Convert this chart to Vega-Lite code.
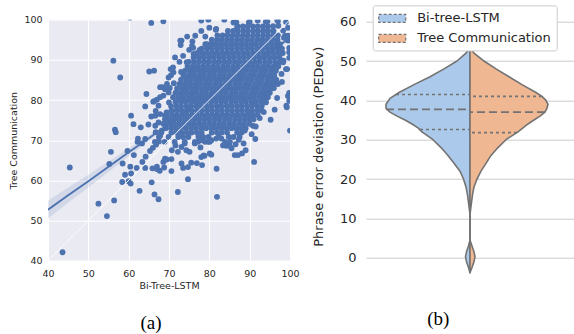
{
"$schema": "https://vega.github.io/schema/vega-lite/v6.json",
"background": "white",
"padding": {"left": 8, "top": 4.7, "right": 0, "bottom": 0},
"autosize": {"type": "pad"},
"config": {"view": {"stroke": null}, "font": "DejaVu Sans"},
"spacing": 76,
"bounds": "flush",
"datasets": {
"pts": [
{"bi":87,"tc":98.3},{"bi":88.3,"tc":98.3},{"bi":89.5,"tc":98.3},{"bi":90.8,"tc":98.3},{"bi":92,"tc":98.3},{"bi":93.3,"tc":98.3},{"bi":94.5,"tc":98.3},{"bi":95.8,"tc":98.4},{"bi":97.1,"tc":98.5},{"bi":98.3,"tc":97.3},{"bi":98.8,"tc":96},{"bi":99.5,"tc":94.8},
{"bi":84.6,"tc":97.2},{"bi":85.9,"tc":97.2},{"bi":87.1,"tc":97.2},{"bi":88.4,"tc":97.2},{"bi":89.6,"tc":97.2},{"bi":90.9,"tc":97.2},{"bi":92.1,"tc":97.2},{"bi":93.4,"tc":97.2},{"bi":94.6,"tc":97.2},{"bi":95.9,"tc":97.2},
{"bi":82,"tc":96.1},{"bi":83.3,"tc":96.1},{"bi":84.5,"tc":96.1},{"bi":85.8,"tc":96.1},{"bi":87,"tc":96.1},{"bi":88.3,"tc":96.1},{"bi":89.5,"tc":96.1},{"bi":90.8,"tc":96.1},{"bi":92,"tc":96.1},{"bi":93.3,"tc":96.1},{"bi":94.5,"tc":96.1},{"bi":95.8,"tc":96.1},{"bi":97,"tc":96.1},
{"bi":80.6,"tc":95},{"bi":81.9,"tc":95},{"bi":83.1,"tc":95},{"bi":84.4,"tc":95},{"bi":85.6,"tc":95},{"bi":86.9,"tc":95},{"bi":88.1,"tc":95},{"bi":89.4,"tc":95},{"bi":90.6,"tc":95},{"bi":91.9,"tc":95},{"bi":93.1,"tc":95},{"bi":94.4,"tc":95},{"bi":95.6,"tc":95},{"bi":96.9,"tc":95},
{"bi":79,"tc":93.9},{"bi":80.3,"tc":93.9},{"bi":81.5,"tc":93.9},{"bi":82.8,"tc":93.9},{"bi":84,"tc":93.9},{"bi":85.3,"tc":93.9},{"bi":86.5,"tc":93.9},{"bi":87.8,"tc":93.9},{"bi":89,"tc":93.9},{"bi":90.3,"tc":93.9},{"bi":91.5,"tc":93.9},{"bi":92.8,"tc":93.9},{"bi":94,"tc":93.9},{"bi":95.3,"tc":93.9},{"bi":96.5,"tc":93.9},{"bi":97.5,"tc":93.9},
{"bi":78.1,"tc":92.8},{"bi":79.4,"tc":92.8},{"bi":80.6,"tc":92.8},{"bi":81.9,"tc":92.8},{"bi":83.1,"tc":92.8},{"bi":84.4,"tc":92.8},{"bi":85.6,"tc":92.8},{"bi":86.9,"tc":92.8},{"bi":88.1,"tc":92.8},{"bi":89.4,"tc":92.8},{"bi":90.6,"tc":92.8},{"bi":91.9,"tc":92.8},{"bi":93.1,"tc":92.8},{"bi":94.4,"tc":92.8},{"bi":95.6,"tc":92.8},{"bi":96.9,"tc":92.8},{"bi":98,"tc":92.8},
{"bi":77,"tc":91.7},{"bi":78.3,"tc":91.7},{"bi":79.5,"tc":91.7},{"bi":80.8,"tc":91.7},{"bi":82,"tc":91.7},{"bi":83.3,"tc":91.7},{"bi":84.5,"tc":91.7},{"bi":85.8,"tc":91.7},{"bi":87,"tc":91.7},{"bi":88.3,"tc":91.7},{"bi":89.5,"tc":91.7},{"bi":90.8,"tc":91.7},{"bi":92,"tc":91.7},{"bi":93.3,"tc":91.7},{"bi":94.5,"tc":91.7},{"bi":95.8,"tc":91.7},{"bi":97,"tc":91.7},{"bi":98.2,"tc":91.7},
{"bi":76.1,"tc":90.6},{"bi":77.4,"tc":90.6},{"bi":78.6,"tc":90.6},{"bi":79.9,"tc":90.6},{"bi":81.1,"tc":90.6},{"bi":82.4,"tc":90.6},{"bi":83.6,"tc":90.6},{"bi":84.9,"tc":90.6},{"bi":86.1,"tc":90.6},{"bi":87.4,"tc":90.6},{"bi":88.6,"tc":90.6},{"bi":89.9,"tc":90.6},{"bi":91.1,"tc":90.6},{"bi":92.4,"tc":90.6},{"bi":93.6,"tc":90.6},{"bi":94.9,"tc":90.6},{"bi":96.1,"tc":90.6},{"bi":97.4,"tc":90.6},
{"bi":75,"tc":89.5},{"bi":76.3,"tc":89.5},{"bi":77.5,"tc":89.5},{"bi":78.8,"tc":89.5},{"bi":80,"tc":89.5},{"bi":81.3,"tc":89.5},{"bi":82.5,"tc":89.5},{"bi":83.8,"tc":89.5},{"bi":85,"tc":89.5},{"bi":86.3,"tc":89.5},{"bi":87.5,"tc":89.5},{"bi":88.8,"tc":89.5},{"bi":90,"tc":89.5},{"bi":91.3,"tc":89.5},{"bi":92.5,"tc":89.5},{"bi":93.8,"tc":89.5},{"bi":95,"tc":89.5},{"bi":96.3,"tc":89.5},{"bi":97.5,"tc":89.5},
{"bi":74.6,"tc":88.4},{"bi":75.9,"tc":88.4},{"bi":77.1,"tc":88.4},{"bi":78.4,"tc":88.4},{"bi":79.6,"tc":88.4},{"bi":80.9,"tc":88.4},{"bi":82.1,"tc":88.4},{"bi":83.4,"tc":88.4},{"bi":84.6,"tc":88.4},{"bi":85.9,"tc":88.4},{"bi":87.1,"tc":88.4},{"bi":88.4,"tc":88.4},{"bi":89.6,"tc":88.4},{"bi":90.9,"tc":88.4},{"bi":92.1,"tc":88.4},{"bi":93.4,"tc":88.4},{"bi":94.6,"tc":88.4},{"bi":95.9,"tc":88.4},{"bi":97.1,"tc":88.4},
{"bi":74,"tc":87.3},{"bi":75.3,"tc":87.3},{"bi":76.5,"tc":87.3},{"bi":77.8,"tc":87.3},{"bi":79,"tc":87.3},{"bi":80.3,"tc":87.3},{"bi":81.5,"tc":87.3},{"bi":82.8,"tc":87.3},{"bi":84,"tc":87.3},{"bi":85.3,"tc":87.3},{"bi":86.5,"tc":87.3},{"bi":87.8,"tc":87.3},{"bi":89,"tc":87.3},{"bi":90.3,"tc":87.3},{"bi":91.5,"tc":87.3},{"bi":92.8,"tc":87.3},{"bi":94,"tc":87.3},{"bi":95.3,"tc":87.3},{"bi":96.5,"tc":87.3},
{"bi":73.6,"tc":86.2},{"bi":74.9,"tc":86.2},{"bi":76.1,"tc":86.2},{"bi":77.4,"tc":86.2},{"bi":78.6,"tc":86.2},{"bi":79.9,"tc":86.2},{"bi":81.1,"tc":86.2},{"bi":82.4,"tc":86.2},{"bi":83.6,"tc":86.2},{"bi":84.9,"tc":86.2},{"bi":86.1,"tc":86.2},{"bi":87.4,"tc":86.2},{"bi":88.6,"tc":86.2},{"bi":89.9,"tc":86.2},{"bi":91.1,"tc":86.2},{"bi":92.4,"tc":86.2},{"bi":93.6,"tc":86.2},{"bi":94.9,"tc":86.2},{"bi":96.1,"tc":86.2},
{"bi":73,"tc":85.1},{"bi":74.3,"tc":85.1},{"bi":75.5,"tc":85.1},{"bi":76.8,"tc":85.1},{"bi":78,"tc":85.1},{"bi":79.3,"tc":85.1},{"bi":80.5,"tc":85.1},{"bi":81.8,"tc":85.1},{"bi":83,"tc":85.1},{"bi":84.3,"tc":85.1},{"bi":85.5,"tc":85.1},{"bi":86.8,"tc":85.1},{"bi":88,"tc":85.1},{"bi":89.3,"tc":85.1},{"bi":90.5,"tc":85.1},{"bi":91.8,"tc":85.1},{"bi":93,"tc":85.1},{"bi":94.3,"tc":85.1},{"bi":95.5,"tc":85.1},{"bi":96.6,"tc":85.1},
{"bi":72.6,"tc":84},{"bi":73.9,"tc":84},{"bi":75.1,"tc":84},{"bi":76.4,"tc":84},{"bi":77.6,"tc":84},{"bi":78.9,"tc":84},{"bi":80.1,"tc":84},{"bi":81.4,"tc":84},{"bi":82.6,"tc":84},{"bi":83.9,"tc":84},{"bi":85.1,"tc":84},{"bi":86.4,"tc":84},{"bi":87.6,"tc":84},{"bi":88.9,"tc":84},{"bi":90.1,"tc":84},{"bi":91.4,"tc":84},{"bi":92.6,"tc":84},{"bi":93.9,"tc":84},{"bi":95.1,"tc":84},{"bi":96.1,"tc":84},
{"bi":72,"tc":82.9},{"bi":73.3,"tc":82.9},{"bi":74.5,"tc":82.9},{"bi":75.8,"tc":82.9},{"bi":77,"tc":82.9},{"bi":78.3,"tc":82.9},{"bi":79.5,"tc":82.9},{"bi":80.8,"tc":82.9},{"bi":82,"tc":82.9},{"bi":83.3,"tc":82.9},{"bi":84.5,"tc":82.9},{"bi":85.8,"tc":82.9},{"bi":87,"tc":82.9},{"bi":88.3,"tc":82.9},{"bi":89.5,"tc":82.9},{"bi":90.8,"tc":82.9},{"bi":92,"tc":82.9},{"bi":93.3,"tc":82.9},{"bi":94.5,"tc":82.9},{"bi":95.5,"tc":82.9},
{"bi":71.6,"tc":81.8},{"bi":72.9,"tc":81.8},{"bi":74.1,"tc":81.8},{"bi":75.4,"tc":81.8},{"bi":76.6,"tc":81.8},{"bi":77.9,"tc":81.8},{"bi":79.1,"tc":81.8},{"bi":80.4,"tc":81.8},{"bi":81.6,"tc":81.8},{"bi":82.9,"tc":81.8},{"bi":84.1,"tc":81.8},{"bi":85.4,"tc":81.8},{"bi":86.6,"tc":81.8},{"bi":87.9,"tc":81.8},{"bi":89.1,"tc":81.8},{"bi":90.4,"tc":81.8},{"bi":91.6,"tc":81.8},{"bi":92.9,"tc":81.8},{"bi":94.1,"tc":81.8},{"bi":95,"tc":81.8},
{"bi":71,"tc":80.7},{"bi":72.3,"tc":80.7},{"bi":73.5,"tc":80.7},{"bi":74.8,"tc":80.7},{"bi":76,"tc":80.7},{"bi":77.3,"tc":80.7},{"bi":78.5,"tc":80.7},{"bi":79.8,"tc":80.7},{"bi":81,"tc":80.7},{"bi":82.3,"tc":80.7},{"bi":83.5,"tc":80.7},{"bi":84.8,"tc":80.7},{"bi":86,"tc":80.7},{"bi":87.3,"tc":80.7},{"bi":88.5,"tc":80.7},{"bi":89.8,"tc":80.7},{"bi":91,"tc":80.7},{"bi":92.3,"tc":80.7},{"bi":93.5,"tc":80.7},{"bi":94.5,"tc":80.7},
{"bi":71.6,"tc":79.6},{"bi":72.9,"tc":79.6},{"bi":74.1,"tc":79.6},{"bi":75.4,"tc":79.6},{"bi":76.6,"tc":79.6},{"bi":77.9,"tc":79.6},{"bi":79.1,"tc":79.6},{"bi":80.4,"tc":79.6},{"bi":81.6,"tc":79.6},{"bi":82.9,"tc":79.6},{"bi":84.1,"tc":79.6},{"bi":85.4,"tc":79.6},{"bi":86.6,"tc":79.6},{"bi":87.9,"tc":79.6},{"bi":89.1,"tc":79.6},{"bi":90.4,"tc":79.6},{"bi":91.6,"tc":79.6},{"bi":92.9,"tc":79.6},{"bi":94,"tc":79.6},
{"bi":70.5,"tc":78.5},{"bi":71.8,"tc":78.5},{"bi":73,"tc":78.5},{"bi":74.3,"tc":78.5},{"bi":75.5,"tc":78.5},{"bi":76.8,"tc":78.5},{"bi":78,"tc":78.5},{"bi":79.3,"tc":78.5},{"bi":80.5,"tc":78.5},{"bi":81.8,"tc":78.5},{"bi":83,"tc":78.5},{"bi":84.3,"tc":78.5},{"bi":85.5,"tc":78.5},{"bi":86.8,"tc":78.5},{"bi":88,"tc":78.5},{"bi":89.3,"tc":78.5},{"bi":90.5,"tc":78.5},{"bi":91.8,"tc":78.5},{"bi":93,"tc":78.5},
{"bi":70.6,"tc":77.4},{"bi":71.9,"tc":77.4},{"bi":73.1,"tc":77.4},{"bi":74.4,"tc":77.4},{"bi":75.6,"tc":77.4},{"bi":76.9,"tc":77.4},{"bi":78.1,"tc":77.4},{"bi":79.4,"tc":77.4},{"bi":80.6,"tc":77.4},{"bi":81.9,"tc":77.4},{"bi":83.1,"tc":77.4},{"bi":84.4,"tc":77.4},{"bi":85.6,"tc":77.4},{"bi":86.9,"tc":77.4},{"bi":88.1,"tc":77.4},{"bi":89.4,"tc":77.4},{"bi":90.6,"tc":77.4},{"bi":91.9,"tc":77.4},{"bi":93,"tc":77.4},
{"bi":69.5,"tc":76.3},{"bi":70.8,"tc":76.3},{"bi":72,"tc":76.3},{"bi":73.3,"tc":76.3},{"bi":74.5,"tc":76.3},{"bi":75.8,"tc":76.3},{"bi":77,"tc":76.3},{"bi":78.3,"tc":76.3},{"bi":79.5,"tc":76.3},{"bi":80.8,"tc":76.3},{"bi":82,"tc":76.3},{"bi":83.3,"tc":76.3},{"bi":84.5,"tc":76.3},{"bi":85.8,"tc":76.3},{"bi":87,"tc":76.3},{"bi":88.3,"tc":76.3},{"bi":89.5,"tc":76.3},{"bi":90.8,"tc":76.3},{"bi":92,"tc":76.3},
{"bi":69,"tc":75.2},{"bi":70.1,"tc":75.2},{"bi":71.4,"tc":75.2},{"bi":72.6,"tc":75.2},{"bi":73.9,"tc":75.2},{"bi":75.1,"tc":75.2},{"bi":76.4,"tc":75.2},{"bi":77.6,"tc":75.2},{"bi":78.9,"tc":75.2},{"bi":80.1,"tc":75.2},{"bi":81.4,"tc":75.2},{"bi":82.6,"tc":75.2},{"bi":83.9,"tc":75.2},{"bi":85.1,"tc":75.2},{"bi":86.4,"tc":75.2},{"bi":87.6,"tc":75.2},{"bi":88.9,"tc":75.2},{"bi":90.1,"tc":75.2},{"bi":91,"tc":75.2},
{"bi":68.6,"tc":74.1},{"bi":69.9,"tc":74.1},{"bi":71.1,"tc":74.1},{"bi":72.4,"tc":74.1},{"bi":73.6,"tc":74.1},{"bi":74.9,"tc":74.1},{"bi":76.1,"tc":74.1},{"bi":77.4,"tc":74.1},{"bi":78.6,"tc":74.1},{"bi":79.9,"tc":74.1},{"bi":81.1,"tc":74.1},{"bi":82.4,"tc":74.1},{"bi":83.6,"tc":74.1},{"bi":84.9,"tc":74.1},{"bi":86.1,"tc":74.1},{"bi":87.4,"tc":74.1},{"bi":88.6,"tc":74.1},{"bi":89.9,"tc":74.1},
{"bi":69.2,"tc":73},{"bi":70.5,"tc":73},{"bi":71.7,"tc":73},{"bi":73,"tc":73},{"bi":74.2,"tc":73},{"bi":75.5,"tc":73},{"bi":76.7,"tc":73},{"bi":78,"tc":73},{"bi":79.2,"tc":73},{"bi":80.5,"tc":73},{"bi":81.7,"tc":73},{"bi":83,"tc":73},{"bi":84.2,"tc":73},{"bi":85.5,"tc":73},{"bi":86.7,"tc":73},{"bi":88,"tc":73},{"bi":89,"tc":73},
{"bi":68.1,"tc":71.9},{"bi":70.6,"tc":71.9},{"bi":71.9,"tc":71.9},{"bi":73.1,"tc":71.9},{"bi":74.4,"tc":71.9},{"bi":75.6,"tc":71.9},{"bi":76.9,"tc":71.9},{"bi":78.1,"tc":71.9},{"bi":80.6,"tc":71.9},{"bi":81.9,"tc":71.9},{"bi":83.1,"tc":71.9},{"bi":84.4,"tc":71.9},{"bi":86.9,"tc":71.9},{"bi":88,"tc":71.9},
{"bi":67.5,"tc":70.8},{"bi":69.9,"tc":70.8},{"bi":72.3,"tc":70.8},{"bi":73.5,"tc":70.8},{"bi":74.8,"tc":70.8},{"bi":77.3,"tc":70.8},{"bi":78.5,"tc":70.8},{"bi":79.8,"tc":70.8},{"bi":82.3,"tc":70.8},{"bi":84.8,"tc":70.8},{"bi":86,"tc":70.8},{"bi":87.5,"tc":70.8},
{"bi":66.5,"tc":69.6},{"bi":68.9,"tc":69.6},{"bi":71.4,"tc":69.6},{"bi":73.9,"tc":69.6},{"bi":76.4,"tc":69.6},{"bi":78.9,"tc":69.6},{"bi":80.1,"tc":69.6},{"bi":83.9,"tc":69.6},{"bi":85.1,"tc":69.6},
{"bi":45.4,"tc":63.2},{"bi":43.6,"tc":42.1},{"bi":52.5,"tc":54.2},{"bi":54.6,"tc":51.1},{"bi":56.4,"tc":55},{"bi":55.2,"tc":64.1},{"bi":55.6,"tc":67.1},{"bi":56.2,"tc":89.8},{"bi":57.9,"tc":85.6},{"bi":56.6,"tc":72.6},{"bi":56.8,"tc":72},{"bi":58.5,"tc":64.2},{"bi":59.1,"tc":61.4},{"bi":58.4,"tc":59.6},{"bi":60,"tc":59.8},{"bi":60.5,"tc":59.2},{"bi":60.6,"tc":61.7},{"bi":59.7,"tc":67.3},{"bi":61.3,"tc":66.3},{"bi":60.4,"tc":63.4},{"bi":62,"tc":63.1},{"bi":62.2,"tc":69.6},{"bi":63.3,"tc":69.2},{"bi":62.7,"tc":57.4},{"bi":64.1,"tc":63.1},{"bi":64.2,"tc":65.9},{"bi":63.4,"tc":64.6},{"bi":65.7,"tc":59.5},{"bi":65.9,"tc":63},{"bi":66.4,"tc":56.5},{"bi":67.4,"tc":55.3},{"bi":67,"tc":63.4},{"bi":67.7,"tc":62.4},{"bi":65.3,"tc":67.3},{"bi":66,"tc":68.1},{"bi":66.8,"tc":68.9},{"bi":67.5,"tc":69.7},{"bi":68.6,"tc":64.6},{"bi":69,"tc":65.4},{"bi":69.4,"tc":65.2},{"bi":65.6,"tc":99.2},{"bi":68.6,"tc":99.6},{"bi":65.1,"tc":87.1},{"bi":66.3,"tc":87.3},{"bi":64.4,"tc":81.5},{"bi":64.1,"tc":78.4},{"bi":66.1,"tc":79.6},{"bi":60.6,"tc":76.1},{"bi":61.2,"tc":74},{"bi":63,"tc":73.2},{"bi":62.3,"tc":70.4},{"bi":64.9,"tc":73.9},{"bi":65.6,"tc":75.9},{"bi":66.6,"tc":76.1},{"bi":66.6,"tc":73.6},{"bi":67.4,"tc":74.4},{"bi":68.4,"tc":83.2},{"bi":69,"tc":82.7},{"bi":68.6,"tc":81.1},{"bi":67.8,"tc":80.7},{"bi":67.4,"tc":78.6},{"bi":66.7,"tc":77.3},{"bi":67.8,"tc":76.5},{"bi":69,"tc":76.1},{"bi":69.4,"tc":76.9},{"bi":69.9,"tc":81.9},{"bi":70,"tc":79.4},{"bi":64.1,"tc":70.3},{"bi":66.7,"tc":72},{"bi":68.2,"tc":72.4},{"bi":67.8,"tc":71.1},{"bi":66.3,"tc":79.7},{"bi":67,"tc":80.1},{"bi":67.8,"tc":83.2},{"bi":69.5,"tc":84},{"bi":69.9,"tc":85.6},{"bi":71.1,"tc":86.9},
{"bi":78,"tc":99.8},{"bi":79.7,"tc":100.2},{"bi":83.8,"tc":100.3},{"bi":86.7,"tc":99.3},{"bi":90,"tc":99.5},{"bi":92,"tc":99.8},{"bi":94,"tc":99.5},{"bi":97,"tc":99.7},{"bi":99,"tc":99.4},{"bi":81.6,"tc":97.5},{"bi":73.1,"tc":94.8},{"bi":72.9,"tc":93.7},{"bi":75,"tc":92.5},{"bi":76,"tc":93},{"bi":71,"tc":88.1},{"bi":70.4,"tc":87.7},{"bi":72.6,"tc":89.5},{"bi":70.5,"tc":86.2},{"bi":71.2,"tc":84.2},{"bi":70.2,"tc":83},{"bi":73.5,"tc":91},{"bi":74.5,"tc":95.8},{"bi":76.5,"tc":96},{"bi":78,"tc":97.2},{"bi":80,"tc":98},{"bi":75.8,"tc":94.6},{"bi":71.5,"tc":90.6},{"bi":73,"tc":87},{"bi":72.8,"tc":94.8},{"bi":75.7,"tc":93.5},{"bi":76.1,"tc":91.5},{"bi":74.4,"tc":89.4},{"bi":77.6,"tc":92.5},{"bi":79.4,"tc":93.9},{"bi":79,"tc":95.8},{"bi":81.7,"tc":97.7},{"bi":86,"tc":99.3},{"bi":89.8,"tc":99.3},{"bi":86.9,"tc":98.1},{"bi":94.4,"tc":99.6},{"bi":96.8,"tc":100},{"bi":60.3,"tc":100.5},{"bi":83.7,"tc":100},{"bi":79.8,"tc":100},
{"bi":97,"tc":84},{"bi":97.9,"tc":86.5},{"bi":99,"tc":87.7},{"bi":98.3,"tc":89.4},{"bi":94.4,"tc":81.2},{"bi":94,"tc":79.4},{"bi":96.2,"tc":77.6},{"bi":91.3,"tc":79},{"bi":90.4,"tc":76.5},{"bi":99.1,"tc":78.6},{"bi":99.5,"tc":81},{"bi":90.8,"tc":73.6},{"bi":88.8,"tc":72.4},{"bi":91.4,"tc":70.3},{"bi":91.5,"tc":73.4},{"bi":91.1,"tc":64.6},{"bi":95.2,"tc":75.1},{"bi":99.2,"tc":78.2},{"bi":100,"tc":72.4},{"bi":99.8,"tc":81.8},{"bi":99.8,"tc":79.8},{"bi":99.8,"tc":91.9},{"bi":99.3,"tc":87.7},{"bi":98.4,"tc":89.8},{"bi":99.8,"tc":90.5},{"bi":99.8,"tc":93},{"bi":99.6,"tc":96},{"bi":99.5,"tc":98},{"bi":98.5,"tc":95.5},{"bi":97.5,"tc":92},{"bi":96.5,"tc":88},{"bi":95.5,"tc":86},{"bi":96,"tc":83},{"bi":93.5,"tc":77},{"bi":92.5,"tc":75.5},{"bi":94.5,"tc":84.5},{"bi":98,"tc":84.5},{"bi":96.8,"tc":80.5},{"bi":97,"tc":88.8},
{"bi":70.6,"tc":62.3},{"bi":72.2,"tc":57.1},{"bi":74.7,"tc":60.3},{"bi":81.9,"tc":55.9},{"bi":81.8,"tc":62.9},{"bi":78.2,"tc":63.8},{"bi":73.1,"tc":64.2},{"bi":73.5,"tc":63.1},{"bi":74.7,"tc":63.3},{"bi":87.3,"tc":70.1},{"bi":86.3,"tc":66.3},{"bi":87.1,"tc":66.3},{"bi":88.1,"tc":66.7},{"bi":84.2,"tc":68.6},{"bi":85,"tc":68.6},{"bi":76.9,"tc":64.3},{"bi":78,"tc":65.8},{"bi":78.6,"tc":66.2},{"bi":80.5,"tc":66.4},{"bi":80.1,"tc":66.7},{"bi":70.6,"tc":65.3},{"bi":70.7,"tc":67.5},{"bi":71.6,"tc":68.7},{"bi":72.2,"tc":67.1},{"bi":73.1,"tc":68.3},{"bi":73.9,"tc":69.2},{"bi":74.3,"tc":67.5},{"bi":75.1,"tc":67.1},{"bi":76.4,"tc":69.2},{"bi":77.2,"tc":69.6},{"bi":78,"tc":70},{"bi":79.7,"tc":69.6},{"bi":80.5,"tc":70},{"bi":81.7,"tc":70.4},{"bi":83,"tc":70.4},{"bi":83.4,"tc":68.7},{"bi":77.8,"tc":68.2},{"bi":78.8,"tc":66.1},{"bi":75.5,"tc":64.4},{"bi":85.5,"tc":68},{"bi":89,"tc":67.5},{"bi":88.5,"tc":69.2},{"bi":90.5,"tc":71.5},{"bi":86.5,"tc":69},{"bi":68.8,"tc":63.2},{"bi":67,"tc":62.8}
],
"fit": [
{"bi":40,"fit":52.7,"lo":50.5,"hi":54.9},{"bi":45,"fit":56.3,"lo":54.4,"hi":58.2},{"bi":50,"fit":59.8,"lo":58.2,"hi":61.4},{"bi":55,"fit":63.4,"lo":62.1,"hi":64.7},{"bi":60,"fit":67,"lo":66,"hi":68},{"bi":65,"fit":70.5,"lo":69.8,"hi":71.2},{"bi":70,"fit":74.1,"lo":73.6,"hi":74.6},{"bi":75,"fit":77.7,"lo":77.3,"hi":78.1},{"bi":80,"fit":81.2,"lo":80.9,"hi":81.5},{"bi":85,"fit":84.8,"lo":84.5,"hi":85.1},{"bi":90,"fit":88.4,"lo":88,"hi":88.8},{"bi":95,"fit":91.9,"lo":91.4,"hi":92.4},{"bi":100,"fit":95.5,"lo":94.9,"hi":96.1}
],
"diag": [{"bi":40,"tc":40},{"bi":100,"tc":100}],
"violin": [
{"side":"Bi-tree-LSTM","v":-3.8,"w":0},{"side":"Bi-tree-LSTM","v":-2.5,"w":-0.015},{"side":"Bi-tree-LSTM","v":-1,"w":-0.035},{"side":"Bi-tree-LSTM","v":0.3,"w":-0.045},{"side":"Bi-tree-LSTM","v":1.5,"w":-0.035},{"side":"Bi-tree-LSTM","v":3,"w":-0.015},{"side":"Bi-tree-LSTM","v":4.5,"w":0},{"side":"Bi-tree-LSTM","v":11,"w":0},{"side":"Bi-tree-LSTM","v":12,"w":-0.005},{"side":"Bi-tree-LSTM","v":14,"w":-0.015},{"side":"Bi-tree-LSTM","v":16,"w":-0.025},{"side":"Bi-tree-LSTM","v":18,"w":-0.04},{"side":"Bi-tree-LSTM","v":20,"w":-0.065},{"side":"Bi-tree-LSTM","v":22,"w":-0.1},{"side":"Bi-tree-LSTM","v":24,"w":-0.16},{"side":"Bi-tree-LSTM","v":26,"w":-0.22},{"side":"Bi-tree-LSTM","v":28,"w":-0.29},{"side":"Bi-tree-LSTM","v":30,"w":-0.37},{"side":"Bi-tree-LSTM","v":32,"w":-0.48},{"side":"Bi-tree-LSTM","v":33,"w":-0.52},{"side":"Bi-tree-LSTM","v":34,"w":-0.58},{"side":"Bi-tree-LSTM","v":35,"w":-0.65},{"side":"Bi-tree-LSTM","v":36,"w":-0.73},{"side":"Bi-tree-LSTM","v":37,"w":-0.8},{"side":"Bi-tree-LSTM","v":38,"w":-0.84},{"side":"Bi-tree-LSTM","v":39,"w":-0.84},{"side":"Bi-tree-LSTM","v":40.5,"w":-0.8},{"side":"Bi-tree-LSTM","v":42,"w":-0.71},{"side":"Bi-tree-LSTM","v":44,"w":-0.56},{"side":"Bi-tree-LSTM","v":46,"w":-0.4},{"side":"Bi-tree-LSTM","v":48,"w":-0.26},{"side":"Bi-tree-LSTM","v":50,"w":-0.13},{"side":"Bi-tree-LSTM","v":52,"w":-0.04},{"side":"Bi-tree-LSTM","v":53.5,"w":0},
{"side":"Tree Communication","v":-3.8,"w":0},{"side":"Tree Communication","v":-2.5,"w":0.02},{"side":"Tree Communication","v":-1,"w":0.04},{"side":"Tree Communication","v":0.3,"w":0.05},{"side":"Tree Communication","v":1.5,"w":0.04},{"side":"Tree Communication","v":3,"w":0.02},{"side":"Tree Communication","v":4.5,"w":0},{"side":"Tree Communication","v":11,"w":0},{"side":"Tree Communication","v":12,"w":0.005},{"side":"Tree Communication","v":14,"w":0.015},{"side":"Tree Communication","v":16,"w":0.025},{"side":"Tree Communication","v":18,"w":0.04},{"side":"Tree Communication","v":20,"w":0.07},{"side":"Tree Communication","v":22,"w":0.11},{"side":"Tree Communication","v":24,"w":0.16},{"side":"Tree Communication","v":26,"w":0.21},{"side":"Tree Communication","v":28,"w":0.28},{"side":"Tree Communication","v":30,"w":0.36},{"side":"Tree Communication","v":32,"w":0.48},{"side":"Tree Communication","v":33,"w":0.53},{"side":"Tree Communication","v":34,"w":0.58},{"side":"Tree Communication","v":35,"w":0.64},{"side":"Tree Communication","v":36,"w":0.7},{"side":"Tree Communication","v":37,"w":0.75},{"side":"Tree Communication","v":38,"w":0.77},{"side":"Tree Communication","v":39,"w":0.78},{"side":"Tree Communication","v":40,"w":0.76},{"side":"Tree Communication","v":41,"w":0.72},{"side":"Tree Communication","v":42,"w":0.66},{"side":"Tree Communication","v":44,"w":0.52},{"side":"Tree Communication","v":46,"w":0.39},{"side":"Tree Communication","v":48,"w":0.26},{"side":"Tree Communication","v":50,"w":0.14},{"side":"Tree Communication","v":52,"w":0.04},{"side":"Tree Communication","v":53.5,"w":0}
],
"quart": [
{"side":"Bi-tree-LSTM","v":41.5,"w":-0.74},{"side":"Bi-tree-LSTM","v":32.6,"w":-0.5},{"side":"Tree Communication","v":41,"w":0.72},{"side":"Tree Communication","v":31.8,"w":0.47}
],
"med": [
{"side":"Bi-tree-LSTM","v":37.7,"w":-0.84},{"side":"Tree Communication","v":37,"w":0.75}
]
},
"hconcat": [
{
"width": 242, "height": 241,
"view": {"fill": "#EAEAF2", "stroke": null},
"title": {"text": "(a)", "orient": "bottom", "font": "Liberation Serif", "fontSize": 19, "fontWeight": "normal", "color": "black", "anchor": "middle", "frame": "bounds", "offset": 24, "dx": -3},
"layer": [
{"data": {"name": "pts"},
 "mark": {"type": "circle", "size": 34, "color": "#4C72B0", "opacity": 1, "clip": true},
 "encoding": {
  "x": {"field": "bi", "type": "quantitative", "title": "Bi-Tree-LSTM", "scale": {"domain": [40, 100], "nice": false, "zero": false},
   "axis": {"values": [40,50,60,70,80,90,100], "domain": false, "ticks": false, "grid": true, "gridColor": "white", "gridWidth": 1, "labelFontSize": 9.5, "labelColor": "#262626", "labelPadding": 8, "labelFlush": false, "titleFontSize": 9.5, "titleFontWeight": "normal", "titleColor": "#262626", "titlePadding": 2}},
  "y": {"field": "tc", "type": "quantitative", "title": "Tree Communication", "scale": {"domain": [40, 100], "nice": false, "zero": false},
   "axis": {"values": [40,50,60,70,80,90,100], "domain": false, "ticks": false, "grid": true, "gridColor": "white", "gridWidth": 1, "labelFontSize": 9.5, "labelColor": "#262626", "labelPadding": 6, "labelFlush": false, "titleFontSize": 9.5, "titleFontWeight": "normal", "titleColor": "#262626", "titlePadding": 5}}
 }},
{"data": {"name": "fit"},
 "mark": {"type": "area", "color": "#4C72B0", "opacity": 0.15, "clip": true},
 "encoding": {
  "x": {"field": "bi", "type": "quantitative", "title": "Bi-Tree-LSTM"},
  "y": {"field": "lo", "type": "quantitative", "title": "Tree Communication"},
  "y2": {"field": "hi"}
 }},
{"data": {"name": "fit"},
 "mark": {"type": "line", "color": "#4C72B0", "strokeWidth": 1.8, "clip": true},
 "encoding": {
  "x": {"field": "bi", "type": "quantitative", "title": "Bi-Tree-LSTM"},
  "y": {"field": "fit", "type": "quantitative", "title": "Tree Communication"}
 }},
{"data": {"name": "diag"},
 "mark": {"type": "line", "color": "white", "strokeWidth": 1, "opacity": 0.9, "clip": true},
 "encoding": {
  "x": {"field": "bi", "type": "quantitative", "title": "Bi-Tree-LSTM"},
  "y": {"field": "tc", "type": "quantitative", "title": "Tree Communication"}
 }}
]
},
{
"width": 208, "height": 253,
"title": {"text": "(b)", "orient": "bottom", "font": "Liberation Serif", "fontSize": 19, "fontWeight": "normal", "color": "black", "anchor": "middle", "frame": "bounds", "offset": 37, "dx": -5},
"layer": [
{"data": {"name": "violin"},
 "mark": {"type": "area", "orient": "horizontal", "stroke": "#737373", "strokeWidth": 1.6, "strokeJoin": "round", "opacity": 1},
 "encoding": {
  "y": {"field": "v", "type": "quantitative", "title": "Phrase error deviation (PEDev)", "scale": {"domain": [-3.8, 60.5], "nice": false, "zero": false},
   "axis": {"values": [0,10,20,30,40,50,60], "domain": false, "ticks": false, "grid": true, "gridColor": "#cccccc", "gridWidth": 1, "labelFontSize": 13, "labelColor": "#262626", "labelPadding": 10, "titleFontSize": 13, "titleFontWeight": "normal", "titleColor": "#262626", "titlePadding": 14}},
  "x": {"field": "w", "type": "quantitative", "stack": null, "scale": {"domain": [-1.04, 1.04], "nice": false, "zero": false}, "axis": null},
  "x2": {"datum": 0},
  "fill": {"field": "side", "type": "nominal", "scale": {"domain": ["Bi-tree-LSTM", "Tree Communication"], "range": ["#abc9ea", "#efb792"]},
   "legend": {"title": null, "orient": "none", "legendX": 324.7, "legendY": -14.3, "symbolType": "M-1.93,-0.57H1.93V0.57H-1.93Z", "symbolSize": 196, "symbolStrokeColor": "#737373", "symbolStrokeWidth": 1.2, "symbolDash": [3, 2], "symbolOpacity": 1, "symbolOffset": 6.5, "labelOffset": 17, "labelFontSize": 13, "labelColor": "#262626", "rowPadding": 5, "padding": 5, "fillColor": "white", "strokeColor": "#cccccc", "cornerRadius": 2}}
 }},
{"data": {"name": "quart"},
 "mark": {"type": "rule", "stroke": "#737373", "strokeWidth": 1.6, "strokeDash": [3, 3]},
 "encoding": {
  "y": {"field": "v", "type": "quantitative", "title": "Phrase error deviation (PEDev)"},
  "x": {"field": "w", "type": "quantitative"},
  "x2": {"datum": 0}
 }},
{"data": {"name": "med"},
 "mark": {"type": "rule", "stroke": "#737373", "strokeWidth": 1.6, "strokeDash": [8, 4]},
 "encoding": {
  "y": {"field": "v", "type": "quantitative", "title": "Phrase error deviation (PEDev)"},
  "x": {"field": "w", "type": "quantitative"},
  "x2": {"datum": 0}
 }}
]
}
]
}
